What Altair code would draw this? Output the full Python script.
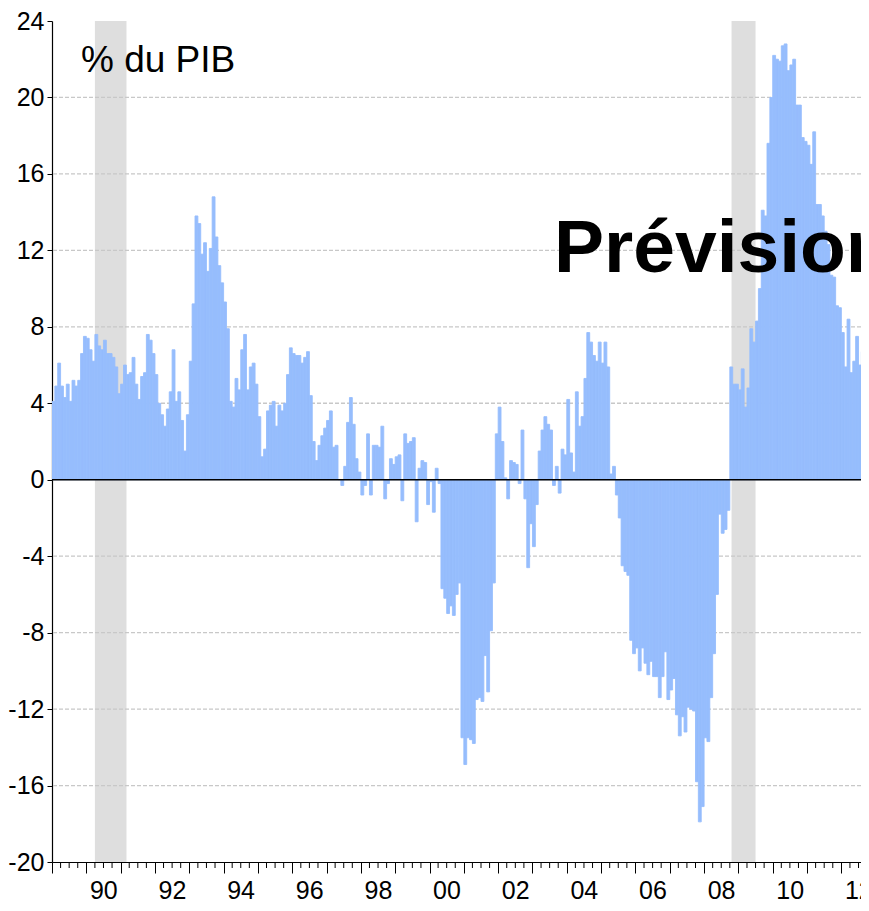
import altair as alt
import pandas as pd

# Monthly values, % du PIB, starting January 1989
vals_1989_1992 = [4.1, 4.9, 6.1, 4.9, 4.3, 5.0, 4.1, 5.2, 4.9, 5.2,
                  6.6, 7.5, 7.4, 6.8, 6.2, 7.6, 7.0, 6.8, 7.3, 6.6,
                  6.6, 6.4, 5.9, 4.5, 5.0, 6.0, 5.5, 5.6, 6.4, 5.0,
                  4.2, 5.4, 5.6, 7.6, 7.3, 6.6, 5.5, 4.0, 3.4, 2.8,
                  3.7, 4.6, 6.8, 4.1, 4.6, 3.1, 1.5, 3.4, 6.2]
vals_1993_1997 = [9.2, 13.8, 13.4, 11.8, 12.4, 10.9, 12.1, 14.8, 12.7, 11.2,
                  10.3, 9.3, 7.9, 4.1, 3.8, 5.3, 4.7, 6.8, 7.6, 4.7,
                  5.9, 6.1, 5.0, 3.3, 1.2, 1.6, 3.6, 3.9, 4.1, 2.8,
                  3.9, 3.6, 4.0, 5.5, 6.9, 6.6, 6.5, 6.5, 6.1, 6.4,
                  6.7, 4.4, 2.0, 1.0, 1.8, 2.3, 2.7, 3.1, 3.6, 1.7]
vals_1997_2000 = [1.8, 0.0, -0.3, 0.7, 3.0, 4.3, 2.9, 1.1, 0.4, -0.8,
                  -0.3, 2.4, -0.8, 1.8, 1.8, 1.7, 2.8, -1.0, -0.2, 1.1,
                  0.8, 1.2, 1.3, -1.1, 2.4, 1.9, 2.0, 2.2, -2.2, 0.6,
                  1.0, 0.9, -1.3, -0.1, -1.7, 0.6, -0.2]
vals_2000_2001 = [-5.7, -6.2, -7.0, -6.6, -7.1, -6.0, -5.4, -13.5, -14.9, -13.5,
                  -13.6, -13.8, -11.5, -11.4, -11.6, -9.2, -11.1, -7.9, -5.4]
vals_2001_2005 = [2.4, 3.8, 2.0, 0.1, -1.0, 1.0, 0.9, 0.8, -0.2, 2.6,
                  -1.0, -4.6, -2.3, -3.5, -1.3, 1.5, 2.6, 3.3, 2.9, 2.6,
                  -0.3, 0.7, -0.7, 1.6, 1.3, 4.2, 1.4, 0.4, 4.6, 2.8,
                  3.3, 5.3, 7.7, 7.2, 6.5, 6.2, 7.2, 6.1, 7.2, 5.9]
vals_2005_2008 = [0.3, 0.7, -0.8, -2.0, -4.5, -4.8, -5.0, -8.4, -9.1, -8.8,
                  -10.0, -8.8, -9.6, -10.2, -9.5, -10.3, -10.3, -11.4, -10.3, -9.0,
                  -11.5, -11.0, -10.4, -12.3, -13.4, -12.4, -13.2, -11.9, -12.0, -12.1,
                  -15.8, -17.9, -17.1, -13.5, -13.7, -11.4, -9.1, -6.0, -1.8, -2.8,
                  -2.6, -1.6]
vals_2008_2012 = [5.9, 5.0, 5.0, 4.7, 5.8, 3.8, 4.8, 7.9, 7.2, 8.3,
                  10.0, 14.1, 13.8, 17.6, 20.0, 22.2, 22.0, 21.9, 22.7, 22.8,
                  21.4, 21.7, 22.0, 19.6, 19.6, 17.9, 17.7, 17.5, 16.5, 18.2,
                  14.4, 14.4, 13.8, 13.0, 12.3, 10.7, 10.6, 9.1, 9.0, 7.7,
                  5.9, 8.4, 5.6, 6.2, 7.5, 6.0, 6.7, 7.6, 10.0]

start_year = 1989
values = (vals_1989_1992 + vals_1993_1997 + vals_1997_2000 + vals_2000_2001
          + vals_2001_2005 + vals_2005_2008 + vals_2008_2012)

# Recession periods (shaded)
rec_start = [1990.25, 2008.8]
rec_end = [1991.17, 2009.5]

y_ticks = [-20, -16, -12, -8, -4, 0, 4, 8, 12, 16, 20, 24]
grid_values = [-16, -12, -8, -4, 4, 8, 12, 16, 20]
year_ticks = list(range(1989, 2013))
quarter_ticks = [y + q / 4 for y in range(1989, 2013) for q in (1, 2, 3)]

unit_label = "% du PIB"
forecast_label = "Prévision"

df = pd.DataFrame({
    "start": [start_year + m / 12 for m in range(len(values))],
    "end": [start_year + (m + 1) / 12 for m in range(len(values))],
    "value": values,
})
rec_df = pd.DataFrame({"start": rec_start, "end": rec_end})
grid_df = pd.DataFrame({"g": grid_values})
qt_df = pd.DataFrame({"q": quarter_ticks})

W, H = 809, 841
FONT_NUM = "Liberation Sans"
BAR = "#96bdfd"

x_scale = alt.Scale(domain=[1989, 1989 + W / 34.32], nice=False, zero=False)
y_scale = alt.Scale(domain=[-20, 24], nice=False, zero=False)

x_axis = alt.Axis(
    values=year_ticks,
    labelExpr="datum.value % 2 === 0 ? format(datum.value % 100, '02d') : ''",
    labelOffset=17,
    tickSize=11,
    tickColor="black",
    domainColor="black",
    domainWidth=1.2,
    grid=False,
    title=None,
    labelFont=FONT_NUM,
    labelFontSize=25,
    labelColor="black",
    labelPadding=5,
    labelOverlap=False,
    labelFlush=False,
    labelBound=False,
)
y_axis = alt.Axis(
    values=y_ticks,
    labelExpr="datum.value < 0 ? '-' + abs(datum.value) : '' + datum.value",
    tickSize=5,
    tickColor="black",
    domainColor="black",
    domainWidth=1.2,
    grid=False,
    title=None,
    labelFont=FONT_NUM,
    labelFontSize=25,
    labelColor="black",
    labelPadding=3,
    labelOverlap=False,
    labelFlush=False,
    labelBound=False,
)

shade = alt.Chart(rec_df).mark_rect(color="#dedede").encode(
    x=alt.X("start:Q", scale=x_scale, axis=x_axis),
    x2="end:Q",
    y=alt.datum(24, scale=y_scale, axis=y_axis),
    y2=alt.datum(-20),
)

grid = alt.Chart(grid_df).mark_rule(color="#c8c8c8", strokeDash=[4, 2], strokeWidth=1.3).encode(
    y=alt.Y("g:Q", scale=y_scale, axis=y_axis)
)

bars = alt.Chart(df).mark_rect(color=BAR, stroke=BAR, strokeWidth=0.9, clip=True).encode(
    x=alt.X("start:Q", scale=x_scale, axis=x_axis),
    x2="end:Q",
    y=alt.Y("value:Q", scale=y_scale, axis=y_axis),
    y2=alt.datum(0),
)

zero = alt.Chart(pd.DataFrame({"z": [0]})).mark_rule(color="black", strokeWidth=1.3).encode(
    y=alt.Y("z:Q", scale=y_scale, axis=y_axis)
)

minor = alt.Chart(qt_df).mark_rule(color="black", strokeWidth=1).encode(
    x=alt.X("q:Q", scale=x_scale, axis=x_axis),
    y=alt.value(H),
    y2=alt.value(H + 6),
)

txt_unit = alt.Chart(pd.DataFrame({"t": [unit_label]})).mark_text(
    align="left", baseline="alphabetic", fontSize=37, font="Liberation Sans", color="black"
).encode(x=alt.value(29), y=alt.value(51), text="t:N")

txt_fc = alt.Chart(pd.DataFrame({"t": [forecast_label]})).mark_text(
    align="left", baseline="alphabetic", fontSize=75, fontWeight="bold",
    font="Liberation Sans", color="black", clip=True
).encode(x=alt.value(502), y=alt.value(251), text="t:N")

chart = alt.layer(shade, grid, bars, zero, minor, txt_unit, txt_fc).properties(
    width=W,
    height=H,
    autosize=alt.AutoSizeParams(type="none"),
    padding={"left": 44, "top": 13, "right": 0, "bottom": 41},
    background="white",
).configure_view(stroke=None)

chart.save("out.html", embed_options={"renderer": "svg", "actions": False})
